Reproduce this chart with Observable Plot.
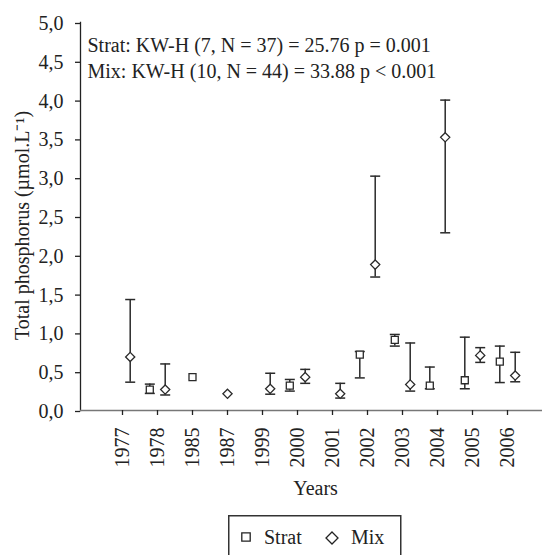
<!DOCTYPE html>
<html>
<head>
<meta charset="utf-8">
<script src="https://cdn.jsdelivr.net/npm/d3@7"></script>
<script src="https://cdn.jsdelivr.net/npm/@observablehq/plot@0.6"></script>
<style>
  body { margin: 0; background: white; }
  #wrap { position: relative; width: 542px; height: 555px; overflow: hidden; background: white; }
  #legend { position: absolute; left: 228px; top: 515px; }
  #wrap svg, #wrap svg text, #wrap svg g { font-family: 'Liberation Serif', 'Times New Roman', Times, serif !important; }
</style>
</head>
<body>
<div id="wrap"><div id="chart"></div><div id="legend"></div></div>
<script>
const years = ["1977","1978","1985","1987","1999","2000","2001","2002","2003","2004","2005","2006"];

const stratYears  = ["1978","1985","2000","2002","2003","2004","2005","2006"];
const stratMedian = [0.27, 0.43, 0.32, 0.72, 0.91, 0.32, 0.39, 0.63];
const stratLow    = [0.22, null, 0.25, 0.42, 0.83, 0.28, 0.28, 0.36];
const stratHigh   = [0.34, null, 0.40, 0.76, 0.98, 0.56, 0.945, 0.83];

const mixYears  = ["1977","1978","1987","1999","2000","2001","2002","2003","2004","2005","2006"];
const mixMedian = [0.69, 0.27, 0.215, 0.28, 0.43, 0.215, 1.88, 0.335, 3.52, 0.71, 0.45];
const mixLow    = [0.365, 0.20, null, 0.21, 0.35, 0.16, 1.72, 0.25, 2.29, 0.62, 0.37];
const mixHigh   = [1.43, 0.60, null, 0.48, 0.53, 0.35, 3.02, 0.87, 4.00, 0.81, 0.75];

const yTicks = [0, 0.5, 1, 1.5, 2, 2.5, 3, 3.5, 4, 4.5, 5];
const statLines = [
  "Strat: KW-H (7, N = 37) = 25.76 p = 0.001",
  "Mix: KW-H (10, N = 44) = 33.88 p < 0.001"
];
const yTitle = "Total phosphorus (µmol.L⁻¹)";
const xTitle = "Years";
const seriesNames = ["Strat", "Mix"];

const rows = (ys, med, lo, hi, s) => ys.map((y, i) => ({year: y, median: med[i], lo: lo[i], hi: hi[i], series: s}));
const strat = rows(stratYears, stratMedian, stratLow, stratHigh, "Strat");
const mix = rows(mixYears, mixMedian, mixLow, mixHigh, "Mix");
const hasBar = d => d.lo != null;

const squareSym = {draw(ctx) { const s = 3.5; ctx.moveTo(-s, -s); ctx.lineTo(s, -s); ctx.lineTo(s, s); ctx.lineTo(-s, s); ctx.closePath(); }};
const diamondSym = {draw(ctx) { const w = 4.6, h = 4.6; ctx.moveTo(0, -h); ctx.lineTo(w, 0); ctx.lineTo(0, h); ctx.lineTo(-w, 0); ctx.closePath(); }};
const capSym = {draw(ctx) { ctx.moveTo(-5, 0); ctx.lineTo(5, 0); }};

const ink = "#2a2a2a";
const off = 7.7;
const serif = "'Liberation Serif', 'Times New Roman', Times, serif";

function seriesMarks(data, sym, side) {
  const bars = data.filter(hasBar);
  const singles = data.filter(d => !hasBar(d));
  const dx = side * off;
  return [
    Plot.ruleX(bars, {x: "year", y1: "lo", y2: "hi", dx, stroke: ink, strokeWidth: 1.5}),
    Plot.dot(bars, {x: "year", y: "lo", dx, symbol: capSym, r: 4, stroke: ink, strokeWidth: 1.5}),
    Plot.dot(bars, {x: "year", y: "hi", dx, symbol: capSym, r: 4, stroke: ink, strokeWidth: 1.5}),
    Plot.dot(bars, {x: "year", y: "median", dx, symbol: sym, r: 4, stroke: ink, fill: "white", strokeWidth: 1.3}),
    Plot.dot(singles, {x: "year", y: "median", dx: 0, symbol: sym, r: 4, stroke: ink, fill: "white", strokeWidth: 1.3})
  ];
}

const chart = Plot.plot({
  width: 542,
  height: 512,
  marginLeft: 80,
  marginRight: 0,
  marginTop: 22,
  marginBottom: 102,
  style: {fontFamily: serif, fontSize: "20px", color: "#222", background: "white", overflow: "visible"},
  x: {type: "point", domain: years, range: [102.3, 525.7]},
  y: {domain: [0, 5]},
  marks: [
    Plot.frame({anchor: "left", stroke: "#222", strokeWidth: 1.3}),
    Plot.ruleY([0], {stroke: "#777", strokeWidth: 1.5}),
    Plot.axisY({ticks: yTicks, tickFormat: d => d.toFixed(1).replace(".", ","), tickSize: 5, tickPadding: 12, fontSize: 20, fontFamily: serif, label: null, stroke: "#222", strokeWidth: 1.3, dy: 1}),
    Plot.axisX({tickRotate: -90, tickSize: 5, tickPadding: 12, fontSize: 20, fontFamily: serif, label: null, stroke: "#222", strokeWidth: 1.3}),
    ...seriesMarks(strat, squareSym, -1),
    ...seriesMarks(mix, diamondSym, 1),
    Plot.text([statLines.join("\n")], {frameAnchor: "top-left", textAnchor: "start", lineAnchor: "top", lineHeight: 1.3, dx: 7, dy: 11, fontSize: 20, fontFamily: serif, fill: "#222"}),
    Plot.text([yTitle], {frameAnchor: "left", textAnchor: "middle", rotate: -90, dx: -58, dy: 9, fontSize: 20, fontFamily: serif, fill: "#222"}),
    Plot.text([xTitle], {frameAnchor: "bottom", textAnchor: "middle", dx: 4, dy: 84, fontSize: 20, fontFamily: serif, fill: "#222"})
  ]
});
document.getElementById("chart").append(chart);

// Legend
const lg = d3.select("#legend").append("svg").attr("width", 174).attr("height", 42)
  .style("font-family", serif).style("font-size", "20px");
lg.append("rect").attr("x", 0.75).attr("y", 0.75).attr("width", 172).attr("height", 60)
  .attr("fill", "white").attr("stroke", "#333").attr("stroke-width", 1.5);
const legendSyms = [
  d3.symbol().type({draw(ctx) { const s = 4.2; ctx.moveTo(-s, -s); ctx.lineTo(s, -s); ctx.lineTo(s, s); ctx.lineTo(-s, s); ctx.closePath(); }})(),
  d3.symbol().type({draw(ctx) { const w = 6, h = 6; ctx.moveTo(0, -h); ctx.lineTo(w, 0); ctx.lineTo(0, h); ctx.lineTo(-w, 0); ctx.closePath(); }})()
];
const legendPos = [{sx: 18, sy: 22, tx: 36}, {sx: 104, sy: 23, tx: 123}];
seriesNames.forEach((name, i) => {
  lg.append("path").attr("d", legendSyms[i]).attr("transform", `translate(${legendPos[i].sx},${legendPos[i].sy})`)
    .attr("fill", "white").attr("stroke", "#222").attr("stroke-width", 1.3);
  lg.append("text").attr("x", legendPos[i].tx).attr("y", 29).attr("fill", "#222").text(name);
});
</script>
</body>
</html>
